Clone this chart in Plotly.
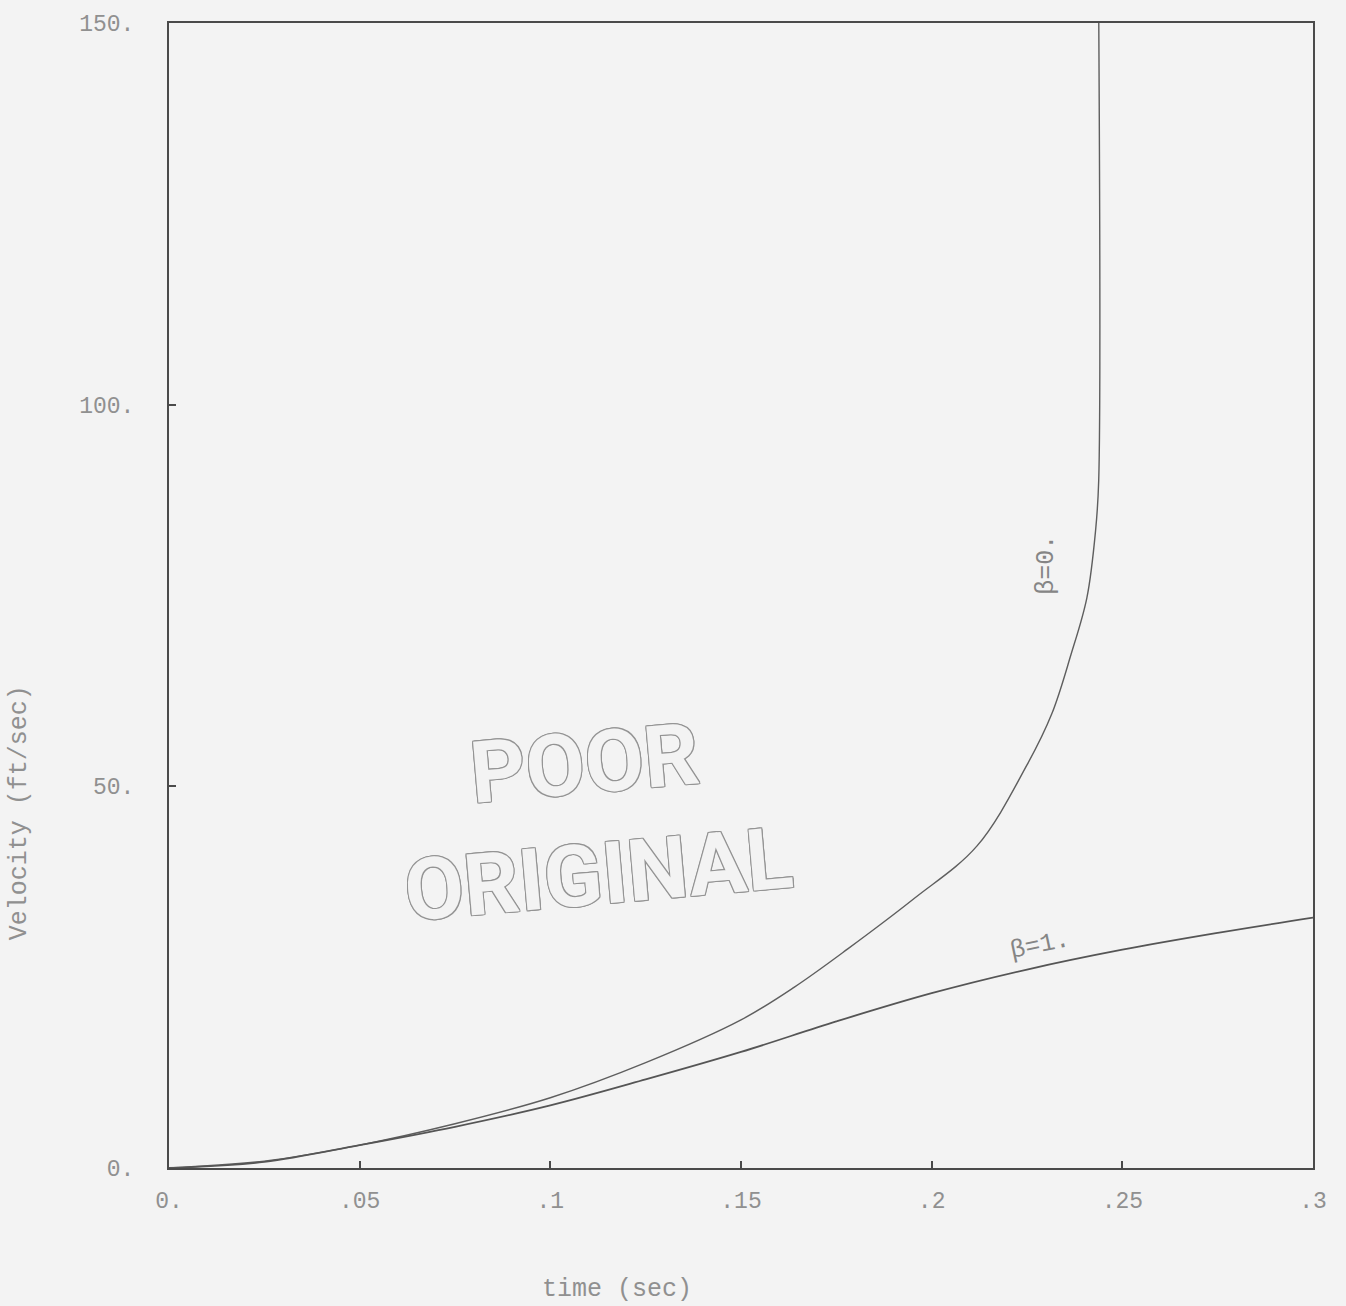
import plotly.graph_objects as go

# time (sec) and velocity (ft/sec) for the two beta cases
t_beta0 = [0.0, 0.025, 0.05, 0.075, 0.1, 0.125, 0.15, 0.164, 0.178, 0.1954,
           0.2119, 0.225, 0.2315, 0.2365, 0.2407, 0.243, 0.2438, 0.2438]
v_beta0 = [0.0, 0.9, 3.0, 5.8, 9.2, 13.8, 19.4, 23.7, 28.7, 35.3,
           42.2, 52.8, 59.5, 67.2, 74.7, 83.6, 90.0, 152.0]

t_beta1 = [0.0, 0.025, 0.05, 0.075, 0.1, 0.125, 0.15, 0.175, 0.2, 0.225,
           0.25, 0.275, 0.3]
v_beta1 = [0.0, 0.8, 3.0, 5.4, 8.2, 11.6, 15.2, 19.2, 22.9, 26.0,
           28.6, 30.8, 32.8]

x_ticks = [0, 0.05, 0.1, 0.15, 0.2, 0.25, 0.3]
x_tick_text = ["0.", ".05", ".1", ".15", ".2", ".25", ".3"]
y_ticks = [0, 50, 100, 150]
y_tick_text = ["0.", "50.", "100.", "150."]

BG = "#f3f3f3"
INK = "#4a4a4a"
LABEL = "#909090"
MONO = "Liberation Mono, DejaVu Sans Mono, monospace"

fig = go.Figure()
fig.add_trace(go.Scatter(x=t_beta0, y=v_beta0, mode="lines",
                         line=dict(color="#5e5e5e", width=1.4, shape="spline",
                                   smoothing=1.0),
                         showlegend=False))
fig.add_trace(go.Scatter(x=t_beta1, y=v_beta1, mode="lines",
                         line=dict(color="#555555", width=1.8, shape="spline",
                                   smoothing=1.0),
                         showlegend=False))

axis_common = dict(showline=True, mirror=True, linecolor=INK, linewidth=2,
                   showgrid=False, zeroline=False, ticks="inside",
                   ticklen=7, tickcolor=INK, tickwidth=1.5,
                   tickfont=dict(family=MONO, size=23, color=LABEL))

fig.update_xaxes(range=[0, 0.3], tickvals=x_ticks, ticktext=x_tick_text,
                 ticklabelstandoff=10, **axis_common)
fig.update_yaxes(range=[0, 150], tickvals=y_ticks, ticktext=y_tick_text,
                 ticklabelstandoff=28, **axis_common)

annotations = [
    dict(x=0.2302, y=79, xref="x", yref="y", text="β=0.", textangle=-90,
         showarrow=False, font=dict(family=MONO, size=25, color="#858585")),
    dict(x=0.2283, y=29.2, xref="x", yref="y", text="β=1.", textangle=-12,
         showarrow=False, font=dict(family=MONO, size=25, color="#858585")),
    dict(x=-0.131, y=0.31, xref="paper", yref="paper", text="Velocity (ft/sec)",
         textangle=-90, showarrow=False, xanchor="center", yanchor="middle",
         font=dict(family=MONO, size=25, color=LABEL)),
    dict(x=0.392, y=-0.106, xref="paper", yref="paper", text="time (sec)",
         showarrow=False, xanchor="center", yanchor="middle",
         font=dict(family=MONO, size=25, color=LABEL)),
]

# outlined rubber stamp
stamp_outline = ("1px 1px 0 #949494, -1px -1px 0 #949494, 1px -1px 0 #949494, "
                 "-1px 1px 0 #949494, 0 1px 0 #949494, 0 -1px 0 #949494, "
                 "1px 0 0 #949494, -1px 0 0 #949494")
stamp_font = dict(family="Liberation Sans Narrow, Roboto, sans-serif",
                  size=86, color=BG, weight="bold", shadow=stamp_outline)
annotations.append(dict(x=0.109, y=53, xref="x", yref="y", text="POOR",
                        textangle=-5, showarrow=False, font=stamp_font))
annotations.append(dict(x=0.1125, y=38.5, xref="x", yref="y", text="ORIGINAL",
                        textangle=-5, showarrow=False, font=stamp_font))

fig.update_layout(width=1346, height=1306, paper_bgcolor=BG, plot_bgcolor=BG,
                  margin=dict(l=169, r=33, t=18, b=138),
                  annotations=annotations)

fig.write_html("out.html")
